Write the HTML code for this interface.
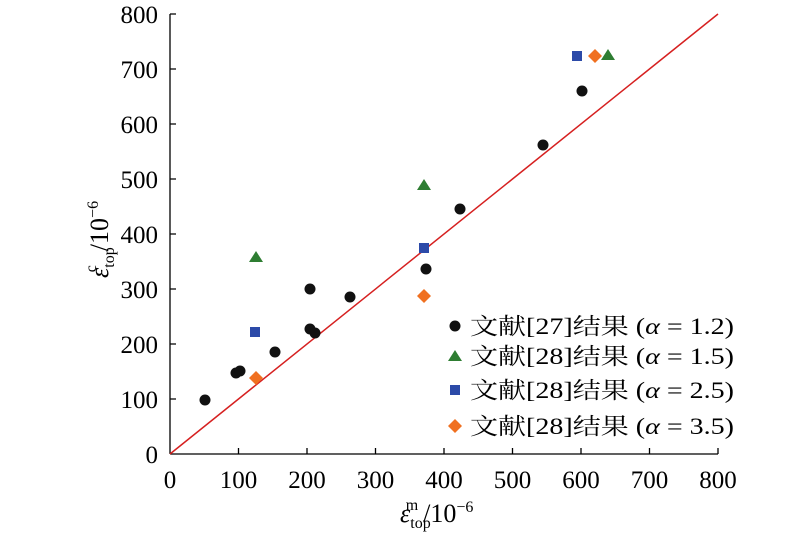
<!DOCTYPE html>
<html><head><meta charset="utf-8"><style>body{margin:0;background:#fff}svg{display:block}</style></head><body>
<svg width="800" height="537" xmlns="http://www.w3.org/2000/svg" font-family="Liberation Serif, Noto Serif CJK SC, serif">
<rect width="800" height="537" fill="#fff"/>
<g stroke="#000" stroke-width="1.3" fill="none">
<line x1="170" y1="14" x2="170" y2="454"/>
<line x1="170" y1="454" x2="718" y2="454"/>
<path d="M238.5 454v-6M307 454v-6M375.5 454v-6M444 454v-6M512.5 454v-6M581 454v-6M649.5 454v-6M718 454v-6"/>
<path d="M170 399h6M170 344h6M170 289h6M170 234h6M170 179h6M170 124h6M170 69h6M170 14h6"/>
</g>
<line x1="170" y1="454" x2="718" y2="14" stroke="#d62020" stroke-width="1.5"/>
<g font-size="25" text-anchor="middle" fill="#000">
<text x="170" y="488">0</text><text x="238.5" y="488">100</text><text x="307" y="488">200</text><text x="375.5" y="488">300</text><text x="444" y="488">400</text><text x="512.5" y="488">500</text><text x="581" y="488">600</text><text x="649.5" y="488">700</text><text x="718" y="488">800</text>
</g>
<g font-size="25" text-anchor="end" fill="#000">
<text x="158" y="463">0</text><text x="158" y="408">100</text><text x="158" y="353">200</text><text x="158" y="298">300</text><text x="158" y="243">400</text><text x="158" y="188">500</text><text x="158" y="133">600</text><text x="158" y="78">700</text><text x="158" y="23">800</text>
</g>
<text x="400" y="522" font-size="26" fill="#000"><tspan font-style="italic">ε</tspan><tspan font-size="16" dy="6">top</tspan><tspan font-size="16" dx="-25" dy="-18">m</tspan><tspan dx="5" dy="12">/10</tspan><tspan font-size="16" dy="-10">−6</tspan></text>
<text transform="translate(108,278) rotate(-90)" font-size="26" fill="#000"><tspan font-style="italic">ε</tspan><tspan font-size="16" dy="6">top</tspan><tspan font-size="16" dx="-25" dy="-18">c</tspan><tspan dx="14" dy="12">/10</tspan><tspan font-size="16" dy="-10">−6</tspan></text>
<g fill="#111">
<circle cx="205" cy="400" r="5.5"/><circle cx="236" cy="373" r="5.5"/><circle cx="240" cy="371" r="5.5"/><circle cx="275" cy="352" r="5.5"/><circle cx="310" cy="289" r="5.5"/><circle cx="310" cy="329" r="5.5"/><circle cx="315" cy="333" r="5.5"/><circle cx="350" cy="297" r="5.5"/><circle cx="426" cy="269" r="5.5"/><circle cx="460" cy="209" r="5.5"/><circle cx="543" cy="145" r="5.5"/><circle cx="582" cy="91" r="5.5"/>
<circle cx="455" cy="326" r="5.5"/>
</g>
<g fill="#2e7d32">
<path d="M256 251l7 11h-14z"/><path d="M424 179l7 11h-14z"/><path d="M608 49l7 11h-14z"/><path d="M455 350l7 11h-14z"/>
</g>
<g fill="#2c4aa8">
<rect x="250" y="327" width="10" height="10"/><rect x="419" y="243" width="10" height="10"/><rect x="572" y="51" width="10" height="10"/><rect x="450" y="385" width="10" height="10"/>
</g>
<g fill="#f07020">
<path d="M256 371l7 7-7 7-7-7z"/><path d="M424 289l7 7-7 7-7-7z"/><path d="M595 49l7 7-7 7-7-7z"/><path d="M455 419l7 7-7 7-7-7z"/>
</g>
<g font-size="23" fill="#000">
<text x="470" y="334" textLength="264" lengthAdjust="spacingAndGlyphs">文献[27]结果 (<tspan font-style="italic">α</tspan> = 1.2)</text>
<text x="470" y="364" textLength="264" lengthAdjust="spacingAndGlyphs">文献[28]结果 (<tspan font-style="italic">α</tspan> = 1.5)</text>
<text x="470" y="398" textLength="264" lengthAdjust="spacingAndGlyphs">文献[28]结果 (<tspan font-style="italic">α</tspan> = 2.5)</text>
<text x="470" y="434" textLength="264" lengthAdjust="spacingAndGlyphs">文献[28]结果 (<tspan font-style="italic">α</tspan> = 3.5)</text>
</g>
</svg>
</body></html>
